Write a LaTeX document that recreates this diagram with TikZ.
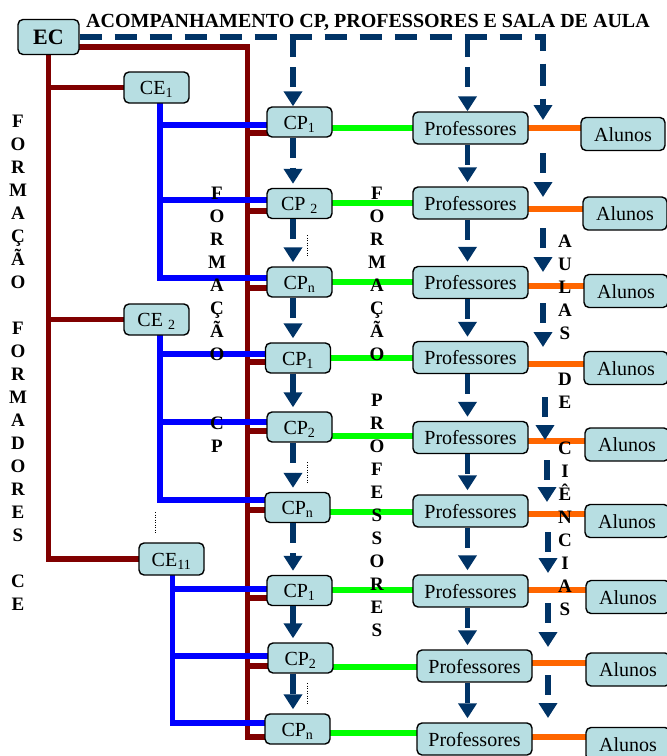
\documentclass[tikz,border=0pt]{standalone}
\usepackage{fontspec}
\setmainfont{Liberation Serif}
\usetikzlibrary{arrows.meta}
\pgfdeclarelayer{bg}
\pgfsetlayers{bg,main}
\definecolor{boxfill}{RGB}{183,222,226}
\definecolor{dred}{RGB}{128,0,0}
\definecolor{navy}{RGB}{0,51,102}
\definecolor{orng}{RGB}{255,102,0}
\definecolor{lgreen}{RGB}{0,255,0}
\definecolor{pblue}{RGB}{0,0,255}
\begin{document}
\begin{tikzpicture}[x=1pt,y=-1pt,
 rbox/.style={draw=black,line width=1.4pt,fill=boxfill,rounded corners=5pt,inner sep=0pt,text height=14pt,text depth=0pt,font=\fontsize{20}{24}\selectfont},
 cpbox/.style={rbox,minimum width=65pt,minimum height=30pt},
 prbox/.style={rbox,minimum width=115pt,minimum height=32pt},
 albox/.style={rbox,minimum width=84pt,minimum height=33pt},
 cebox/.style={rbox,minimum width=65pt,minimum height=31pt},
 redl/.style={draw=dred,line width=5.5pt,line cap=rect},
 bluel/.style={draw=pblue,line width=5.5pt,line cap=rect},
 greenl/.style={draw=lgreen,line width=5.5pt,line cap=rect},
 orl/.style={draw=orng,line width=5.5pt,line cap=rect},
 darr/.style={draw=navy,line width=5.5pt,dash pattern=on 20pt off 10pt,-{Triangle[length=15pt,width=18pt]}},
 darrtop/.style={darr,dash pattern=on 22pt off 13pt},
 dotl/.style={draw=black,line width=1pt,dash pattern=on 1pt off 1.5pt},
 vlet/.style={font=\bfseries\fontsize{19}{23}\selectfont,anchor=base,inner sep=0pt},
]
\useasboundingbox (0,0) rectangle (667,756);

% title
\node[font=\bfseries\fontsize{20}{24}\selectfont,anchor=base,inner sep=0pt] (title) at (368,27) {ACOMPANHAMENTO CP, PROFESSORES E SALA DE AULA};

% EC and CE boxes
\node[rbox,minimum width=61pt,minimum height=35pt,font=\bfseries\fontsize{22}{26}\selectfont,text height=15pt] (ec) at (48.5,37) {EC};
\node[cebox] (ce1) at (156.5,87.5) {CE\textsubscript{1}};
\node[cebox] (ce2) at (156.5,319.5) {CE \textsubscript{2}};
\node[cebox,minimum height=32pt] (ce11) at (171.5,559) {CE\textsubscript{11}};

% CP boxes
\node[cpbox] (cp1) at (299.5,122) {CP\textsubscript{1}};
\node[cpbox] (cp2) at (299.5,203.5) {CP \textsubscript{2}};
\node[cpbox] (cp3) at (299.5,282) {CP\textsubscript{n}};
\node[cpbox] (cp4) at (298,358) {CP\textsubscript{1}};
\node[cpbox] (cp5) at (299.5,427) {CP\textsubscript{2}};
\node[cpbox] (cp6) at (297.5,507.5) {CP\textsubscript{n}};
\node[cpbox] (cp7) at (299.5,590.5) {CP\textsubscript{1}};
\node[cpbox] (cp8) at (300.5,658) {CP\textsubscript{2}};
\node[cpbox] (cp9) at (297.5,729) {CP\textsubscript{n}};

% Professores boxes
\node[prbox] (pr1) at (470.5,128) {Professores};
\node[prbox] (pr2) at (470.5,203) {Professores};
\node[prbox] (pr3) at (470.5,282.5) {Professores};
\node[prbox] (pr4) at (470.5,357.5) {Professores};
\node[prbox] (pr5) at (470.5,437.5) {Professores};
\node[prbox] (pr6) at (470.5,511) {Professores};
\node[prbox] (pr7) at (470.5,591) {Professores};
\node[prbox] (pr8) at (474.5,666) {Professores};
\node[prbox] (pr9) at (474.5,739) {Professores};

% Alunos boxes
\node[albox] (al1) at (623,134) {Alunos};
\node[albox] (al2) at (625,213.5) {Alunos};
\node[albox] (al3) at (626,291) {Alunos};
\node[albox] (al4) at (626,368) {Alunos};
\node[albox] (al5) at (627,444.5) {Alunos};
\node[albox] (al6) at (627,521) {Alunos};
\node[albox] (al7) at (628,597) {Alunos};
\node[albox] (al8) at (628,669.5) {Alunos};
\node[albox] (al9) at (628,744) {Alunos};

\coordinate (rtop) at (247.5,47);

\begin{pgfonlayer}{bg}
 % dark red structure
 \draw[redl] (ec.south) |- (ce11.west);
 \draw[redl] (ec.south |- ce1.west) -- (ce1.west);
 \draw[redl] (ec.south |- ce2.west) -- (ce2.west);
 \draw[redl] (ec.east |- rtop) -- (rtop) -- (rtop |- 0,737);
 % blue trunks
 \draw[bluel] (ce1.south -| 160,0) -- (160,278);
 \draw[bluel] (ce2.south -| 160,0) -- (160,500);
 \draw[bluel] (ce11.south -| 172.5,0) -- (172.5,723);
 \foreach \i/\gy/\oy/\by/\ry/\bx in {1/128/128/125/133/160, 2/203/209/200/211/160, 3/282/286/278/288/160,
   4/358/364/354/362/160, 5/436/441/422/431/160, 6/512/514/500/510/160,
   7/590/590/589/598/172.5, 8/667/663/656/666/172.5, 9/733/737/723/737/172.5} {
  \draw[greenl] (cp\i.east |- 0,\gy) -- (pr\i.west |- 0,\gy);
  \draw[orl] (pr\i.east |- 0,\oy) -- (al\i.west |- 0,\oy);
  \draw[redl] (rtop |- 0,\ry) -- (cp\i.west |- 0,\ry);
  \draw[bluel] (\bx,\by) -- (cp\i.west |- 0,\by);
 }
\end{pgfonlayer}

% dashed navy arrows
\draw[darrtop] (ec.east) -- (543,37) -- (543,120);
\draw[darr] (ec.east -| 293,0) -- (cp1.north -| 293,0);
\draw[darr] (ec.east -| 467.5,0) -- (pr1.north -| 467.5,0);
\foreach \i/\j in {1/2,2/3,3/4,4/5,5/6,6/7,7/8,8/9} {
  \draw[darr,shorten >=4pt] (cp\i.south -| 293,0) -- (cp\j.north -| 293,0);
  \draw[darr,shorten >=4pt] (pr\i.south -| 467.5,0) -- (pr\j.north -| 467.5,0);
}
\foreach \k/\xx/\ya/\yb in {2/543/153/197, 3/543/228/272, 4/543/303/347, 5/545/397/440,
   6/547/460/502, 7/548/532/573, 8/548/603/647, 9/548/675/718} {
  \coordinate (s\k) at (\xx,\ya);
  \coordinate (e\k) at (\xx,\yb);
  \draw[darr] (s\k) -- (e\k);
}

% dotted ellipsis marks
\coordinate (d1a) at (307,235); \coordinate (d1b) at (307,257);
\coordinate (d2a) at (307,462); \coordinate (d2b) at (307,483);
\coordinate (d3a) at (307,683); \coordinate (d3b) at (307,705);
\coordinate (d4a) at (155,512); \coordinate (d4b) at (155,533);
\draw[dotl] (d1a) -- (d1b);
\draw[dotl] (d2a) -- (d2b);
\draw[dotl] (d3a) -- (d3b);
\draw[dotl] (d4a) -- (d4b);

% vertical letter labels
\foreach \ch [count=\k] in {F,O,R,M,A,Ç,Ã,O,{},F,O,R,M,A,D,O,R,E,S,{},C,E}
  \node[vlet] (va\k) at ({18},{127+(\k-1)*23}) {\ch};
\foreach \ch [count=\k] in {F,O,R,M,A,Ç,Ã,O,{},{},C,P}
  \node[vlet] (vb\k) at ({217},{199+(\k-1)*23}) {\ch};
\foreach \ch [count=\k] in {F,O,R,M,A,Ç,Ã,O,{},P,R,O,F,E,S,S,O,R,E,S}
  \node[vlet] (vc\k) at ({377},{199+(\k-1)*23}) {\ch};
\foreach \ch [count=\k] in {A,U,L,A,S,{},D,E,{},C,I,Ê,N,C,I,A,S}
  \node[vlet] (vd\k) at ({565},{247+(\k-1)*23}) {\ch};
\end{tikzpicture}
\end{document}
